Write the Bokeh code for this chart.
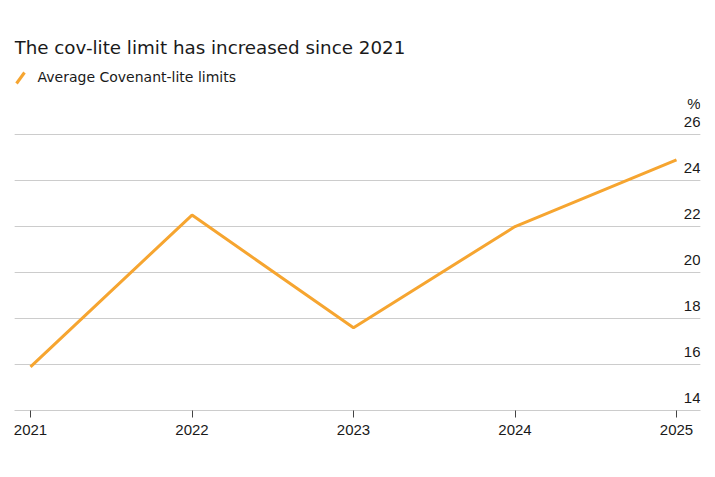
from bokeh.plotting import figure
from bokeh.layouts import column
from bokeh.models import FixedTicker, Grid, Range1d
from bokeh.core.properties import value
from bokeh.embed import file_html
from bokeh.resources import INLINE

# ---- data ----
years = [2021, 2022, 2023, 2024, 2025]
cov_lite_limits = [15.9, 22.5, 17.6, 22.0, 24.9]
y_ticks = [14, 16, 18, 20, 22, 24, 26]
y_tick_labels = ["14", "16", "18", "20", "22", "24", "26"]
y_unit = "%"
title_text = "The cov-lite limit has increased since 2021"
series_name = "Average Covenant-lite limits"

ORANGE = "#F6A530"
TEXT = "#1a1a1a"
GRID = "#cccccc"
FONT = "Liberation Sans"
HFONT = "DejaVu Sans"
W = 708
HEADER_H = 95
FRAME_L = 14
FRAME_W = 686

# ---- header (title + legend); its frame is aligned with the chart frame ----
hdr = figure(width=W, height=HEADER_H, output_backend="svg", toolbar_location=None,
             x_range=Range1d(FRAME_L, FRAME_L + FRAME_W), y_range=Range1d(HEADER_H, 0),
             x_axis_location=None, y_axis_location=None,
             min_border_left=FRAME_L, min_border_right=W - FRAME_L - FRAME_W,
             min_border_top=0, min_border_bottom=0)
hdr.outline_line_color = None
hdr.xgrid.visible = False
hdr.ygrid.visible = False
hdr.text(x=[14], y=[47], text=[title_text], text_align="left", text_baseline="middle",
         text_font=value(HFONT), text_font_size="18.3px", text_color=TEXT)
hdr.segment(x0=[16], y0=[83], x1=[24], y1=[72], line_color=ORANGE, line_width=3)
hdr.text(x=[37], y=[76], text=[series_name], text_align="left", text_baseline="middle",
         text_font=value(HFONT), text_font_size="14px", text_color=TEXT)

# ---- main chart ----
pad_left_px, pad_right_px = 16, 24
span = years[-1] - years[0]
per_px = span / (FRAME_W - pad_left_px - pad_right_px)
x_start = years[0] - pad_left_px * per_px
x_end = years[-1] + pad_right_px * per_px

p = figure(width=W, height=374, output_backend="svg", toolbar_location=None,
           x_range=Range1d(x_start, x_end), y_range=Range1d(14, 27.7),
           y_axis_location=None,
           min_border_left=FRAME_L, min_border_right=W - FRAME_L - FRAME_W,
           min_border_top=0, min_border_bottom=59)
p.outline_line_color = None
p.xgrid.visible = False

grid = Grid(dimension=1, ticker=FixedTicker(ticks=y_ticks), grid_line_color=GRID, grid_line_width=1)
p.add_layout(grid)

ax = p.xaxis[0]
ax.ticker = FixedTicker(ticks=years)
ax.axis_line_color = GRID
ax.major_tick_line_color = "#444444"
ax.major_tick_in = 0
ax.major_tick_out = 7
ax.minor_tick_line_color = None
ax.major_label_text_font = FONT
ax.major_label_text_font_size = "15px"
ax.major_label_text_color = TEXT
ax.major_label_standoff = 7

p.line(years, cov_lite_limits, line_color=ORANGE, line_width=3)

p.text(x=[x_end] * len(y_ticks), y=y_ticks, text=y_tick_labels,
       text_align="right", text_baseline="alphabetic", y_offset=-13,
       text_font=value(FONT), text_font_size="15px", text_color=TEXT)
p.text(x=[x_end], y=[y_ticks[-1]], text=[y_unit],
       text_align="right", text_baseline="alphabetic", y_offset=-31,
       text_font=value(FONT), text_font_size="15px", text_color=TEXT)

layout = column(hdr, p, spacing=0)
open("out.html", "w").write(file_html(layout, INLINE))
